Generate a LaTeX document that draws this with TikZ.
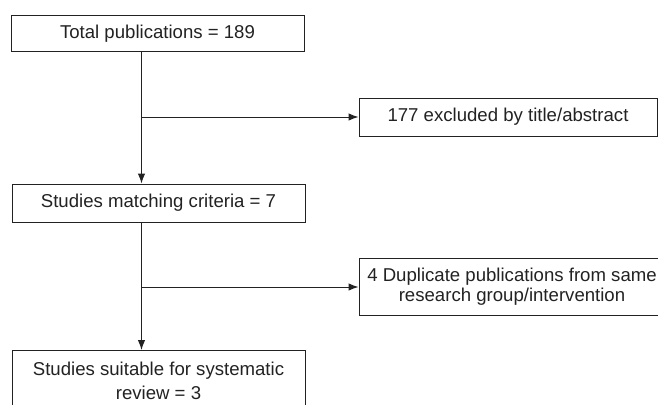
\documentclass[tikz,border=0pt]{standalone}
\usepackage{fontspec}
\setmainfont{Liberation Sans}
\usetikzlibrary{arrows.meta}
\definecolor{ink}{HTML}{222222}
\begin{document}
\begin{tikzpicture}[x=1pt,y=-1pt,
  box/.style={draw=ink, line width=1pt, text=ink, inner sep=0pt, align=center,
    font=\fontsize{18.6}{22}\selectfont},
  link/.style={draw=ink, line width=1pt},
  arr/.style={link, -{Latex[length=10pt,width=7.5pt]}}]
\useasboundingbox (0,0) rectangle (658,404);
\node[box, minimum width=293pt, minimum height=36pt] (b1) at (157.5,34) {Total publications = 189};
\node[box, minimum width=293pt, minimum height=38pt] (b2) at (158.5,203) {Studies matching criteria = 7};
\node[box, minimum width=293pt, anchor=north, inner ysep=12pt, text depth=22pt, font=\fontsize{18.6}{24}\selectfont] (b3) at (158.5,350) {Studies suitable for systematic\\review = 3};
\node[box, minimum width=298pt, minimum height=38pt] (r1) at (508,117) {177 excluded by title/abstract};
\node[box, minimum width=306pt, minimum height=57pt, font=\fontsize{18.6}{20}\selectfont] (r2) at (512,286.5) {4 Duplicate publications from same\\research group/intervention};
\coordinate (j1) at (141.5,117);
\coordinate (j2) at (141.5,287);
\draw[arr] (b1.south -| j1) -- (j1 |- b2.north);
\draw[arr] (j1) -- (j1 -| r1.west);
\draw[arr] (b2.south -| j2) -- (j2 |- b3.north);
\draw[arr] (j2) -- (j2 -| r2.west);
\end{tikzpicture}
\end{document}
